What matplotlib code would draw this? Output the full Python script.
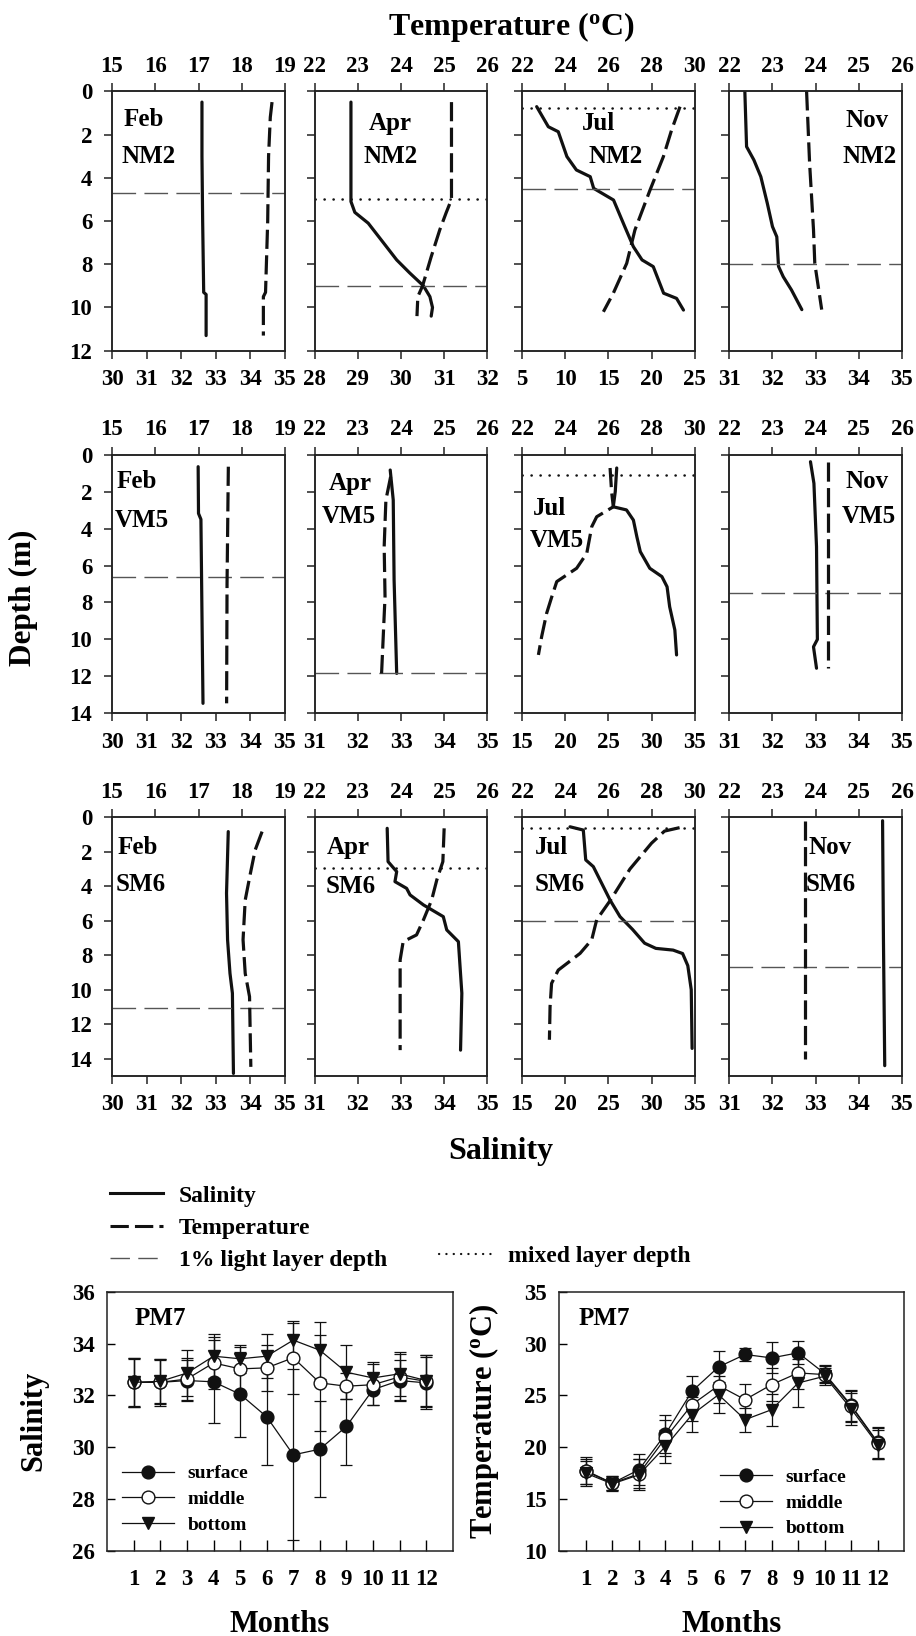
import matplotlib
matplotlib.use("Agg")
import matplotlib.pyplot as plt
from matplotlib.lines import Line2D

plt.rcParams['font.family'] = ['Liberation Serif', 'DejaVu Serif']
plt.rcParams['font.weight'] = 'bold'
plt.rcParams['axes.labelweight'] = 'bold'
plt.rcParams['mathtext.fontset'] = 'custom'
plt.rcParams['mathtext.rm'] = 'Liberation Serif:bold'
plt.rcParams['mathtext.bf'] = 'Liberation Serif:bold'
plt.rcParams['mathtext.it'] = 'Liberation Serif:bold:italic'

# ---------------- profile data (depth in m) ----------------
# NM2
feb_nm2_sal_z = [0.5, 3, 6, 9.3, 9.4, 11.3]
feb_nm2_sal = [32.6, 32.6, 32.62, 32.65, 32.72, 32.72]
feb_nm2_temp_z = [0.5, 1.2, 3, 6, 9.3, 9.5, 11.3]
feb_nm2_temp = [18.7, 18.66, 18.62, 18.6, 18.55, 18.5, 18.5]

apr_nm2_sal_z = [0.5, 5.1, 5.6, 6.1, 7.0, 7.8, 8.4, 9.0, 9.5, 10.0, 10.4]
apr_nm2_sal = [28.84, 28.84, 28.93, 29.24, 29.59, 29.9, 30.2, 30.52, 30.67, 30.73, 30.7]
apr_nm2_temp_z = [0.5, 5.0, 5.6, 6.4, 7.65, 9.0, 9.5, 10.4]
apr_nm2_temp = [25.17, 25.17, 25.05, 24.9, 24.7, 24.5, 24.39, 24.37]

jul_nm2_sal_z = [0.71, 1.64, 1.87, 3.02, 3.64, 3.95, 4.49, 5.03, 6.26, 7.19, 7.8, 8.11, 9.34, 9.58, 10.12]
jul_nm2_sal = [6.7, 8.05, 9.2, 10.2, 11.3, 12.9, 13.3, 15.6, 16.9, 17.9, 18.9, 20.2, 21.4, 22.9, 23.7]
jul_nm2_temp_z = [0.71, 1.79, 3.02, 4.57, 6.42, 7.96, 9.34, 10.2]
jul_nm2_temp = [29.32, 28.93, 28.55, 27.93, 27.23, 26.85, 26.23, 25.77]

nov_nm2_sal_z = [0, 2.56, 3.18, 3.95, 5.18, 6.26, 6.73, 8.1, 8.58, 9.19, 10.1]
nov_nm2_sal = [31.36, 31.4, 31.57, 31.73, 31.88, 32.0, 32.1, 32.14, 32.25, 32.44, 32.68]
nov_nm2_temp_z = [0, 3.33, 6.4, 7.96, 10.1]
nov_nm2_temp = [23.79, 23.86, 23.95, 23.98, 24.14]

# VM5
feb_vm5_sal_z = [0.65, 3.18, 3.5, 8.6, 13.46]
feb_vm5_sal = [32.49, 32.5, 32.57, 32.6, 32.63]
feb_vm5_temp_z = [0.65, 7.0, 13.46]
feb_vm5_temp = [17.69, 17.66, 17.65]

apr_vm5_sal_z = [0.83, 2.45, 6.78, 11.84]
apr_vm5_sal = [32.75, 32.82, 32.84, 32.9]
apr_vm5_temp_z = [1.19, 2.45, 4.98, 7.68, 11.84]
apr_vm5_temp = [23.76, 23.65, 23.61, 23.63, 23.55]

jul_vm5_sal_z = [0.72, 2.0, 2.82, 2.99, 3.54, 4.44, 5.25, 6.15, 6.6, 7.15, 8.23, 9.49, 10.84]
jul_vm5_sal = [25.97, 25.8, 25.57, 27.1, 27.9, 28.3, 28.7, 29.8, 31.2, 31.8, 32.1, 32.7, 32.9]
jul_vm5_temp_z = [0.72, 2.0, 2.82, 3.36, 3.9, 5.34, 6.15, 6.87, 7.69, 8.59, 9.85, 10.84]
jul_vm5_temp = [26.08, 26.15, 26.23, 25.46, 25.23, 25.0, 24.53, 23.61, 23.38, 23.14, 22.91, 22.76]

nov_vm5_sal_z = [0.38, 1.55, 4.98, 10.0, 10.4, 11.56]
nov_vm5_sal = [32.88, 32.96, 33.02, 33.04, 32.95, 33.02]
nov_vm5_temp_z = [0.4, 11.56]
nov_vm5_temp = [24.29, 24.29]

# SM6
feb_sm6_sal_z = [0.83, 4.4, 7.1, 9.05, 10.2, 14.85]
feb_sm6_sal = [33.36, 33.31, 33.34, 33.41, 33.48, 33.51]
feb_sm6_temp_z = [0.83, 1.9, 3.25, 4.8, 7.1, 9.05, 10.4, 14.47]
feb_sm6_temp = [18.47, 18.31, 18.2, 18.08, 18.03, 18.08, 18.18, 18.21]

apr_sm6_sal_z = [0.64, 2.57, 3.15, 3.73, 4.12, 4.5, 5.08, 5.76, 6.53, 7.21, 10.2, 13.5]
apr_sm6_sal = [32.68, 32.7, 32.9, 32.86, 33.13, 33.21, 33.52, 33.98, 34.06, 34.33, 34.41, 34.38]
apr_sm6_temp_z = [0.64, 2.57, 3.63, 4.8, 5.95, 6.82, 7.21, 8.27, 13.5]
apr_sm6_temp = [25.0, 24.97, 24.83, 24.71, 24.52, 24.36, 24.05, 23.98, 23.98]

jul_sm6_sal_z = [0.55, 0.74, 2.47, 2.86, 4.8, 5.76, 6.5, 7.3, 7.6, 7.7, 7.9, 8.6, 10.0, 13.4]
jul_sm6_sal = [20.56, 22.1, 22.38, 23.26, 25.2, 26.35, 27.8, 29.2, 30.5, 32.5, 33.6, 34.2, 34.6, 34.7]
jul_sm6_temp_z = [0.6, 0.8, 1.5, 3.0, 4.8, 5.94, 7.1, 7.89, 8.86, 9.63, 10.98, 12.9]
jul_sm6_temp = [29.3, 28.6, 28.0, 27.0, 26.1, 25.46, 25.23, 24.69, 23.68, 23.37, 23.3, 23.27]

nov_sm6_sal_z = [0.2, 7.0, 14.4]
nov_sm6_sal = [34.55, 34.57, 34.6]
nov_sm6_temp_z = [0.2, 14.0]
nov_sm6_temp = [23.75, 23.75]

# 1% light layer depth and mixed layer depth (None = not shown)
light_depth = {'Feb NM2': 4.7, 'Apr NM2': 9.0, 'Jul NM2': 4.5, 'Nov NM2': 8.0,
               'Feb VM5': 6.6, 'Apr VM5': 11.84, 'Jul VM5': None, 'Nov VM5': 7.47,
               'Feb SM6': 11.04, 'Apr SM6': None, 'Jul SM6': 6.0, 'Nov SM6': 8.68}
mixed_depth = {'Apr NM2': 5.0, 'Jul NM2': 0.75, 'Jul VM5': 1.08, 'Apr SM6': 2.96, 'Jul SM6': 0.64}

# axis ranges per column
sal_ticks_rows = [
    [[30, 31, 32, 33, 34, 35], [28, 29, 30, 31, 32], [5, 10, 15, 20, 25], [31, 32, 33, 34, 35]],
    [[30, 31, 32, 33, 34, 35], [31, 32, 33, 34, 35], [15, 20, 25, 30, 35], [31, 32, 33, 34, 35]],
    [[30, 31, 32, 33, 34, 35], [31, 32, 33, 34, 35], [15, 20, 25, 30, 35], [31, 32, 33, 34, 35]],
]
temp_ticks = [[15, 16, 17, 18, 19], [22, 23, 24, 25, 26], [22, 24, 26, 28, 30], [22, 23, 24, 25, 26]]
depth_max = [12, 14, 15]
months_short = ['Feb', 'Apr', 'Jul', 'Nov']
stations = ['NM2', 'VM5', 'SM6']

profiles = [
    [(feb_nm2_sal_z, feb_nm2_sal, feb_nm2_temp_z, feb_nm2_temp),
     (apr_nm2_sal_z, apr_nm2_sal, apr_nm2_temp_z, apr_nm2_temp),
     (jul_nm2_sal_z, jul_nm2_sal, jul_nm2_temp_z, jul_nm2_temp),
     (nov_nm2_sal_z, nov_nm2_sal, nov_nm2_temp_z, nov_nm2_temp)],
    [(feb_vm5_sal_z, feb_vm5_sal, feb_vm5_temp_z, feb_vm5_temp),
     (apr_vm5_sal_z, apr_vm5_sal, apr_vm5_temp_z, apr_vm5_temp),
     (jul_vm5_sal_z, jul_vm5_sal, jul_vm5_temp_z, jul_vm5_temp),
     (nov_vm5_sal_z, nov_vm5_sal, nov_vm5_temp_z, nov_vm5_temp)],
    [(feb_sm6_sal_z, feb_sm6_sal, feb_sm6_temp_z, feb_sm6_temp),
     (apr_sm6_sal_z, apr_sm6_sal, apr_sm6_temp_z, apr_sm6_temp),
     (jul_sm6_sal_z, jul_sm6_sal, jul_sm6_temp_z, jul_sm6_temp),
     (nov_sm6_sal_z, nov_sm6_sal, nov_sm6_temp_z, nov_sm6_temp)],
]

# label positions inside panels (axes fraction)
month_pos = [
    [(0.185, 0.892), (0.44, 0.877), (0.445, 0.877), (0.80, 0.889)],
    [(0.145, 0.896), (0.205, 0.889), (0.162, 0.793), (0.80, 0.896)],
    [(0.146, 0.884), (0.195, 0.884), (0.172, 0.884), (0.585, 0.884)],
]
station_pos = [
    [(0.212, 0.748), (0.44, 0.748), (0.54, 0.748), (0.815, 0.748)],
    [(0.174, 0.747), (0.198, 0.76), (0.20, 0.67), (0.81, 0.76)],
    [(0.168, 0.742), (0.207, 0.732), (0.22, 0.742), (0.585, 0.742)],
]

# ---------------- PM7 monthly data ----------------
months = [1, 2, 3, 4, 5, 6, 7, 8, 9, 10, 11, 12]
sal_surface = [32.5, 32.5, 32.57, 32.52, 32.04, 31.17, 29.7, 29.92, 30.8, 32.22, 32.57, 32.48]
sal_surface_sd = [0.95, 0.9, 0.8, 1.6, 1.65, 1.85, 3.3, 1.85, 1.5, 0.6, 0.8, 1.0]
sal_middle = [32.5, 32.5, 32.63, 33.25, 33.02, 33.06, 33.45, 32.48, 32.35, 32.41, 32.71, 32.54]
sal_middle_sd = [0.9, 0.85, 0.8, 1.0, 0.85, 0.9, 1.4, 1.85, 0.5, 0.8, 0.9, 1.0]
sal_bottom = [32.5, 32.54, 32.86, 33.51, 33.41, 33.51, 34.13, 33.74, 32.89, 32.67, 32.83, 32.57]
sal_bottom_sd = [0.95, 0.85, 0.9, 0.85, 0.55, 0.85, 0.65, 1.1, 1.05, 0.6, 0.85, 1.0]

temp_surface = [17.74, 16.52, 17.81, 21.26, 25.39, 27.74, 28.94, 28.61, 29.10, 27.1, 24.03, 20.45]
temp_surface_sd = [1.3, 0.7, 1.5, 1.8, 1.5, 1.5, 0.6, 1.5, 1.1, 0.8, 1.5, 1.5]
temp_middle = [17.65, 16.52, 17.42, 20.87, 24.1, 25.94, 24.58, 26.03, 27.16, 27.0, 23.94, 20.39]
temp_middle_sd = [1.2, 0.7, 1.4, 1.7, 1.6, 1.7, 1.5, 1.6, 1.6, 0.8, 1.5, 1.5]
temp_bottom = [17.48, 16.45, 17.32, 20.06, 23.13, 25.06, 22.65, 23.61, 26.19, 26.84, 23.68, 20.23]
temp_bottom_sd = [1.2, 0.7, 1.5, 1.6, 1.7, 1.8, 1.15, 1.55, 2.3, 0.8, 1.5, 1.4]

# ---------------- figure ----------------
W, H = 916, 1636
fig = plt.figure(figsize=(W / 100, H / 100), dpi=100)
INK = '#111111'
SPINE = '#222222'


def px_axes(left, top, right, bottom):
    return fig.add_axes([left / W, 1 - bottom / H, (right - left) / W, (bottom - top) / H])


col_x = [(112, 285), (314.7, 487.3), (522, 694.7), (729.3, 902)]
row_y = [(91.3, 350.7), (454.7, 713.3), (817.3, 1076)]

for r in range(3):
    for c in range(4):
        key = months_short[c] + ' ' + stations[r]
        sal_z, sal, temp_z, temp = profiles[r][c]
        ax = px_axes(col_x[c][0], row_y[r][0], col_x[c][1], row_y[r][1])
        ax.plot(sal, sal_z, color=INK, lw=2.3, solid_capstyle='round', solid_joinstyle='round')
        st = sal_ticks_rows[r][c]
        ax.set_xlim(st[0], st[-1])
        ax.set_xticks(st)
        ax.set_ylim(depth_max[r], 0)
        ax.set_yticks(range(0, depth_max[r] if depth_max[r] % 2 else depth_max[r] + 1, 2))
        ax.tick_params(axis='x', direction='out', length=5.8, width=1.1, pad=7.5,
                       labelsize=16.5, colors=SPINE, labelcolor='black')
        ax.tick_params(axis='y', direction='out', length=5.8, width=1.1, pad=8.5,
                       labelsize=16.5, right=False, labelleft=(c == 0),
                       colors=SPINE, labelcolor='black')
        if light_depth.get(key) is not None:
            ax.axhline(light_depth[key], color='#555555', lw=1.0, dashes=(17, 6))
        if mixed_depth.get(key) is not None:
            ax.axhline(mixed_depth[key], color=INK, lw=1.8, ls=(0, (0.1, 3.5)),
                       dash_capstyle='round')

        ax2 = ax.twiny()
        tt = temp_ticks[c]
        ax2.plot(temp, temp_z, color=INK, lw=2.3, dashes=(6, 2))
        ax2.set_xlim(tt[0], tt[-1])
        ax2.set_xticks(tt)
        ax2.tick_params(axis='x', direction='out', length=5.8, width=1.1, pad=4.5,
                        labelsize=16.5, colors=SPINE, labelcolor='black')
        for a in (ax, ax2):
            for s in a.spines.values():
                s.set_linewidth(1.1)
                s.set_color(SPINE)

        mx, my = month_pos[r][c]
        sx, sy = station_pos[r][c]
        ax2.text(mx, my, months_short[c], transform=ax.transAxes, ha='center', va='center',
                 fontsize=18)
        ax2.text(sx, sy, stations[r], transform=ax.transAxes, ha='center', va='center',
                 fontsize=18)

fig.text(511 / W, 1 - 27 / H, r'Temperature ($\mathrm{^o}$C)', ha='center', va='center',
         fontsize=23)
fig.text(23 / W, 1 - 598 / H, 'Depth (m)', ha='center', va='center', rotation=90, fontsize=22.5)
fig.text(501 / W, 1 - 1151 / H, 'Salinity', ha='center', va='center', fontsize=23)

# legend for profile line styles
h_sal = Line2D([], [], color=INK, lw=2.2)
h_temp = Line2D([], [], color=INK, lw=2.2, dashes=(6, 2))
h_light = Line2D([], [], color='#555555', lw=1.0, dashes=(14, 6))
h_mixed = Line2D([], [], color=INK, lw=1.6, ls=(0, (0.1, 3.2)), dash_capstyle='round')
leg_kw = dict(frameon=False, loc='center left', borderpad=0, borderaxespad=0,
              handlelength=2.25, handletextpad=0.68, labelspacing=0.45,
              prop={'size': 17, 'weight': 'bold'})
fig.legend([h_sal, h_temp, h_light], ['Salinity', 'Temperature', '1% light layer depth'],
           bbox_to_anchor=(110 / W, 1 - 1228 / H), **leg_kw)
fig.legend([h_mixed], ['mixed layer depth'], bbox_to_anchor=(439 / W, 1 - 1256 / H), **leg_kw)

# ---------------- PM7 panels ----------------
bottom_panels = [
    ((107.3, 1291.7, 452.7, 1550.7), 'Salinity', (26, 36), list(range(26, 37, 2)),
     [(sal_surface, sal_surface_sd), (sal_middle, sal_middle_sd), (sal_bottom, sal_bottom_sd)],
     (0.042, 0.198), 0.08),
    ((559.3, 1291.7, 904.3, 1550.7), r'Temperature ($\mathrm{^o}$C)', (10, 35),
     list(range(10, 36, 5)),
     [(temp_surface, temp_surface_sd), (temp_middle, temp_middle_sd), (temp_bottom, temp_bottom_sd)],
     (0.466, 0.185), 0.057),
]
styles = [dict(marker='o', mfc=INK, label='surface'),
          dict(marker='o', mfc='white', label='middle'),
          dict(marker='v', mfc=INK, label='bottom')]

for box, ylab, ylim, yticks, series, leg_xy, pm_x in bottom_panels:
    ax = px_axes(*box)
    for (vals, sd), sty in zip(series, styles):
        ax.errorbar(months, vals, yerr=sd, fmt='none', ecolor=INK, elinewidth=0.9,
                    capsize=4.2, capthick=0.9, zorder=2)
    for (vals, sd), sty in zip(series, styles):
        ax.plot(months, vals, color=INK, lw=0.9, marker=sty['marker'], ms=9.2,
                mfc=sty['mfc'], mec=INK, mew=1.0, label=sty['label'], zorder=3)
    ax.set_xlim(0, 13)
    ax.set_xticks(months)
    ax.set_ylim(*ylim)
    ax.set_yticks(yticks)
    ax.tick_params(axis='x', direction='in', length=7.7, width=1.0, pad=13,
                   labelsize=16.5, top=False)
    ax.tick_params(axis='y', direction='in', length=5.8, width=1.0, pad=8.6,
                   labelsize=16.5, right=False)
    for s in ax.spines.values():
        s.set_linewidth(1.1)
        s.set_color(SPINE)
    ax.set_xlabel('Months', fontsize=22, fontweight='bold')
    ax.xaxis.set_label_coords(0.5, -0.228)
    ax.set_ylabel(ylab, fontsize=22, fontweight='bold')
    ax.yaxis.set_label_coords(-0.17, 0.5)
    ax.text(pm_x, 0.897, 'PM7', transform=ax.transAxes, ha='left', va='center', fontsize=18)
    ax.legend(frameon=False, loc='center left', bbox_to_anchor=leg_xy, borderpad=0,
              borderaxespad=0, handlelength=2.68, handletextpad=0.7, labelspacing=0.42,
              prop={'size': 14, 'weight': 'bold'})

fig.savefig('out.png', dpi=100)
